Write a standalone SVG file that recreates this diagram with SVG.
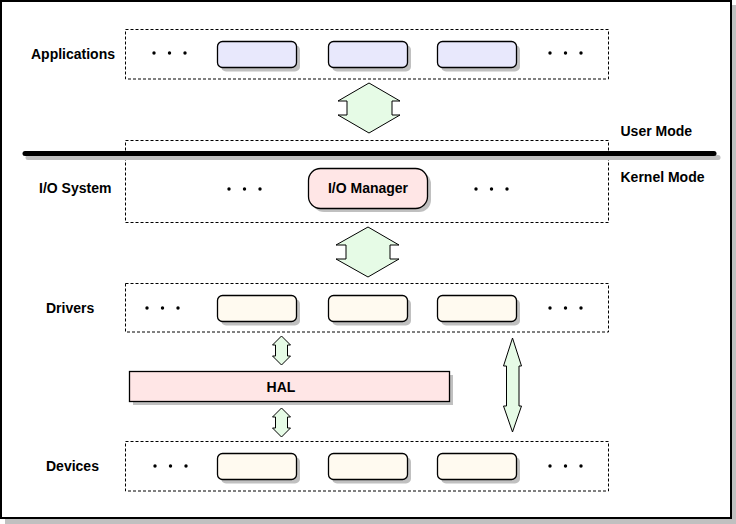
<svg xmlns="http://www.w3.org/2000/svg" width="736" height="524" viewBox="0 0 736 524">
<style>
.t{font-family:"Liberation Sans",Arial,sans-serif;font-weight:bold;font-size:14px;fill:#000}
.box{fill:none;stroke:#000;stroke-width:1;stroke-dasharray:3,2}
.sh{fill:#c0c0c0}
.app{fill:#e8e8fc;stroke:#000;stroke-width:1.3}
.drv{fill:#fffaf0;stroke:#000;stroke-width:1.3}
.pink{fill:#ffe6e6;stroke:#000;stroke-width:1.3}
.arr{fill:#e6fbe6;stroke:#000;stroke-width:1}
.dot{fill:#000}
</style>
<defs>
<g id="dots">
<circle cx="0" cy="0" r="1.7" class="dot"/>
<circle cx="15.5" cy="0" r="1.7" class="dot"/>
<circle cx="31" cy="0" r="1.7" class="dot"/>
</g>
</defs>
<rect x="0" y="0" width="736" height="524" fill="#fff"/>
<g id="frame">
<rect x="5" y="5" width="731" height="519" fill="#c0c0c0"/>
<rect x="1" y="1" width="730" height="517" fill="#fff" stroke="#000" stroke-width="2"/>
</g>

<g id="applications">
<rect class="box" x="125.5" y="29.5" width="483" height="49.5"/>
<text class="t" x="31" y="59">Applications</text>
<use href="#dots" x="154" y="53"/>
<use href="#dots" x="550" y="53"/>
<rect class="sh" x="221" y="45" width="79" height="26.5" rx="5"/>
<rect class="app" x="217.5" y="41.5" width="79" height="26" rx="5"/>
<rect class="sh" x="332" y="45" width="79" height="26.5" rx="5"/>
<rect class="app" x="328.5" y="41.5" width="79" height="26" rx="5"/>
<rect class="sh" x="441" y="45" width="79" height="26.5" rx="5"/>
<rect class="app" x="437.5" y="41.5" width="79" height="26" rx="5"/>
</g>

<g id="io-system">
<rect class="box" x="125.5" y="140.5" width="483" height="82"/>
<text class="t" x="39" y="193.3">I/O System</text>
<use href="#dots" x="229" y="189"/>
<use href="#dots" x="476" y="189"/>
</g>

<g id="io-manager">
<rect class="sh" x="312" y="172" width="119" height="40" rx="12"/>
<rect class="pink" x="308.5" y="168.5" width="119" height="40" rx="12"/>
<text class="t" x="368" y="192.5" text-anchor="middle">I/O Manager</text>
</g>

<g id="mode-line">
<line x1="28" y1="157.5" x2="718" y2="157.5" stroke="#c0c0c0" stroke-width="5" stroke-linecap="round"/>
<line x1="25" y1="153.5" x2="714" y2="153.5" stroke="#000" stroke-width="5" stroke-linecap="round"/>
<text class="t" x="620.5" y="136">User Mode</text>
<text class="t" x="620.5" y="181.7">Kernel Mode</text>
</g>

<g id="drivers">
<rect class="box" x="125.5" y="283.5" width="483" height="48.5"/>
<text class="t" x="46" y="312.5">Drivers</text>
<use href="#dots" x="147" y="308"/>
<use href="#dots" x="550" y="308"/>
<rect class="sh" x="221" y="299" width="79" height="26.5" rx="5"/>
<rect class="drv" x="217.5" y="295.5" width="79" height="26" rx="5"/>
<rect class="sh" x="332" y="299" width="79" height="26.5" rx="5"/>
<rect class="drv" x="328.5" y="295.5" width="79" height="26" rx="5"/>
<rect class="sh" x="441" y="299" width="79" height="26.5" rx="5"/>
<rect class="drv" x="437.5" y="295.5" width="79" height="26" rx="5"/>
</g>

<g id="hal">
<rect class="sh" x="133" y="375" width="320" height="30"/>
<rect class="pink" x="129.5" y="371.5" width="320" height="30"/>
<text class="t" x="281" y="391.7" text-anchor="middle">HAL</text>
</g>

<g id="devices">
<rect class="box" x="125.5" y="441.5" width="483" height="49.5"/>
<text class="t" x="46" y="471">Devices</text>
<use href="#dots" x="155" y="466"/>
<use href="#dots" x="550" y="466"/>
<rect class="sh" x="221" y="457" width="79" height="26.5" rx="5"/>
<rect class="drv" x="217.5" y="453.5" width="79" height="26" rx="5"/>
<rect class="sh" x="332" y="457" width="79" height="26.5" rx="5"/>
<rect class="drv" x="328.5" y="453.5" width="79" height="26" rx="5"/>
<rect class="sh" x="441" y="457" width="79" height="26.5" rx="5"/>
<rect class="drv" x="437.5" y="453.5" width="79" height="26" rx="5"/>
</g>

<g id="connectors">
<polygon class="arr" points="369,83 400,101 392,101 392,115 400,115 369,133 338,115 347,115 347,101 338,101"/>
<polygon class="arr" points="368,227 399,245 390,245 390,259 399,259 368,277 336,259 346,259 346,245 336,245"/>
<polygon class="arr" points="281.5,336 290.5,345 287.5,345 287.5,356 290.5,356 281.5,365 272.5,356 275.5,356 275.5,345 272.5,345"/>
<polygon class="arr" points="281.5,408 290.5,417 287.5,417 287.5,428 290.5,428 281.5,437 272.5,428 275.5,428 275.5,417 272.5,417"/>
<polygon class="arr" points="512.5,338 521.5,366 519,366 519,406 521.5,406 512.5,432 503.5,406 506.5,406 506.5,366 503.5,366"/>
</g>
</svg>
